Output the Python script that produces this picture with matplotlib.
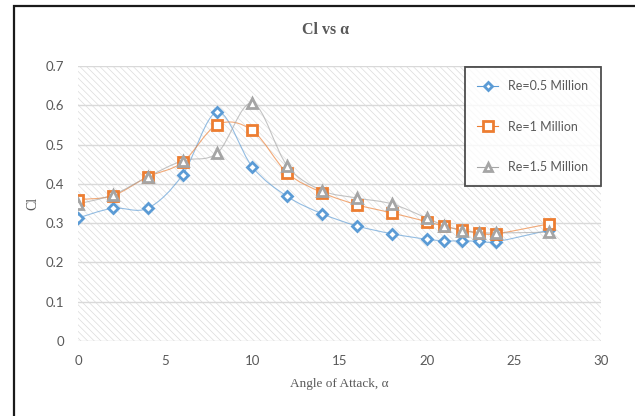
"""Lift coefficient vs angle of attack for three Reynolds numbers."""

import matplotlib

matplotlib.use("Agg")
import matplotlib.pyplot as plt
from matplotlib.lines import Line2D
from matplotlib.patches import PathPatch, Rectangle
from matplotlib.path import Path

alpha = [0, 2, 4, 6, 8, 10, 12, 14, 16, 18, 20, 21, 22, 23, 24, 27]
cl_05 = [0.313, 0.338, 0.338, 0.423, 0.583, 0.443, 0.368, 0.324, 0.293, 0.273,
         0.259, 0.255, 0.255, 0.254, 0.253, 0.282]
cl_10 = [0.360, 0.370, 0.418, 0.455, 0.551, 0.536, 0.428, 0.378, 0.347, 0.326,
         0.304, 0.292, 0.283, 0.275, 0.273, 0.298]
cl_15 = [0.349, 0.372, 0.418, 0.459, 0.479, 0.606, 0.446, 0.383, 0.364, 0.349,
         0.313, 0.294, 0.281, 0.276, 0.275, 0.277]

labels = ["Re=0.5 Million", "Re=1 Million", "Re=1.5 Million"]
colors = ["#5B9BD5", "#ED7D31", "#A5A5A5"]
markers = ["D", "s", "^"]
msizes = [5.5, 7.5, 7]

TEXT = "#595959"
SANS = ["Lato", "DejaVu Sans"]
SERIF = ["Liberation Serif", "DejaVu Serif"]


def smooth_path(xs, ys):
    """Excel-style smoothed line: cubic Bezier through every point."""
    verts = [(xs[0], ys[0])]
    codes = [Path.MOVETO]
    n = len(xs)
    for i in range(n - 1):
        x0, y0 = (xs[i - 1], ys[i - 1]) if i > 0 else (xs[i], ys[i])
        x3, y3 = (xs[i + 2], ys[i + 2]) if i + 2 < n else (xs[i + 1], ys[i + 1])
        c1 = (xs[i] + (xs[i + 1] - x0) / 6, ys[i] + (ys[i + 1] - y0) / 6)
        c2 = (xs[i + 1] - (x3 - xs[i]) / 6, ys[i + 1] - (y3 - ys[i]) / 6)
        verts += [c1, c2, (xs[i + 1], ys[i + 1])]
        codes += [Path.CURVE4] * 3
    return Path(verts, codes)


plt.rcParams["hatch.linewidth"] = 0.5

fig = plt.figure(figsize=(6.35, 4.16), dpi=100)
ax = fig.add_axes([0.1228, 0.1803, 0.8237, 0.661])

# hatched plot area
ax.add_patch(Rectangle((0, 0), 1, 1, transform=ax.transAxes, facecolor="white",
                       edgecolor="#dcdcdc", hatch="\\\\\\\\\\", linewidth=0, zorder=0))

handles = []
for ys, lab, c, m, ms in zip([cl_05, cl_10, cl_15], labels, colors, markers, msizes):
    ax.add_patch(PathPatch(smooth_path(alpha, ys), facecolor="none", edgecolor=c,
                           linewidth=0.8, alpha=0.65, zorder=2))
    ax.plot(alpha, ys, linestyle="none", marker=m, markersize=ms, markerfacecolor="white",
            markeredgecolor=c, markeredgewidth=2, zorder=3)
    handles.append(Line2D([], [], color=c, linewidth=0.8, marker=m, markersize=ms - 1,
                          markerfacecolor="white", markeredgecolor=c, markeredgewidth=2))

ax.set_xlim(0, 30)
ax.set_ylim(0, 0.7)
ax.set_xticks(range(0, 31, 5))
ax.set_yticks([i / 10 for i in range(8)])
ax.set_yticklabels(["0"] + [f"{i / 10:.1f}" for i in range(1, 8)])
ax.grid(axis="y", color="#d9d9d9", linewidth=1)
ax.set_axisbelow(True)
for s in ax.spines.values():
    s.set_visible(False)
ax.tick_params(length=0, pad=10, labelsize=9.5, labelcolor=TEXT)
for t in ax.get_xticklabels() + ax.get_yticklabels():
    t.set_family(SANS)

ax.set_xlabel("Angle of Attack, α", family=SERIF, fontsize=9.5, color=TEXT, labelpad=8)
fig.text(0.052, 0.512, "Cl", rotation=90, family=SERIF, fontsize=10, color=TEXT,
         ha="center", va="center")
fig.text(0.512, 0.927, "Cl vs α", family=SERIF, fontsize=11.5, fontweight="bold",
         color=TEXT, ha="center", va="center")

leg = ax.legend(handles, labels, loc="upper right", bbox_to_anchor=(1.0, 0.995),
                borderaxespad=0, frameon=True, fancybox=False, labelspacing=2.3,
                borderpad=1.0, handlelength=1.7, handletextpad=0.8,
                prop={"family": SANS, "size": 9})
leg.get_frame().set_edgecolor("#222222")
leg.get_frame().set_linewidth(1.3)
for t in leg.get_texts():
    t.set_color(TEXT)

# outer chart border (top and left edges visible)
fig.add_artist(Rectangle((14 / 635, -0.1), 1.2, (416 - 6) / 416 + 0.1,
                         transform=fig.transFigure, facecolor="none",
                         edgecolor="#1a1a1a", linewidth=1.6))

fig.savefig("out.png", dpi=100)
